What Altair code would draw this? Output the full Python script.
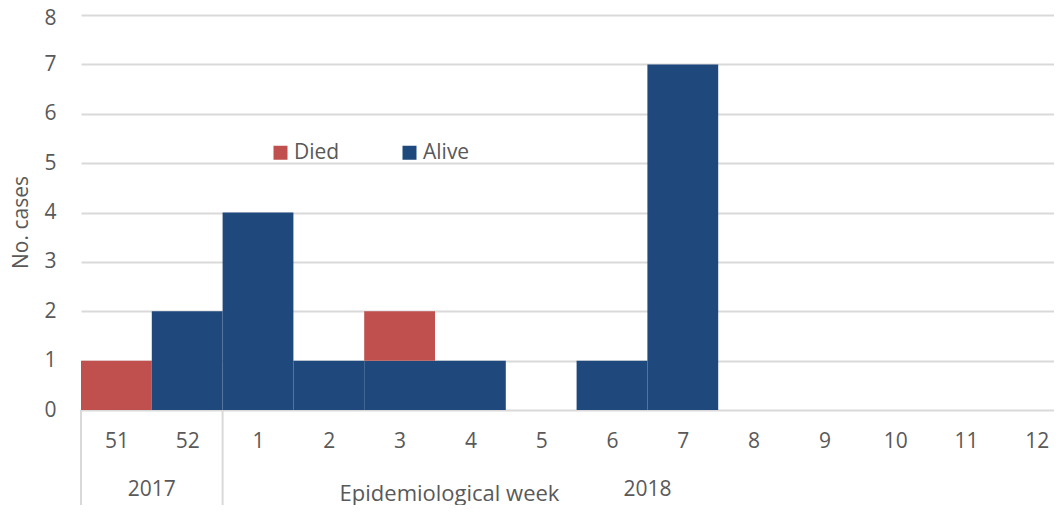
import altair as alt
import pandas as pd

weeks = ["51", "52", "1", "2", "3", "4", "5", "6", "7", "8", "9", "10", "11", "12"]
years = ["2017", "2018"]
year_span = [(0, 2), (2, 14)]
alive = [0, 2, 4, 1, 1, 1, 0, 1, 7, 0, 0, 0, 0, 0]
died = [1, 0, 0, 0, 1, 0, 0, 0, 0, 0, 0, 0, 0, 0]

RED = "#C0504D"
BLUE = "#1F497D"
TXT = "#595959"
GRID = "#D9D9D9"
FONT = "Open Sans"

rows = []
for i, w in enumerate(weeks):
    if alive[i] > 0:
        rows.append({"week": w, "x0": i, "x1": i + 1, "y0": 0, "y1": alive[i], "status": "Alive"})
    if died[i] > 0:
        rows.append({"week": w, "x0": i, "x1": i + 1, "y0": alive[i], "y1": alive[i] + died[i], "status": "Died"})
bars_df = pd.DataFrame(rows)

year_df = pd.DataFrame({
    "year": years,
    "xc": [(a + b) / 2 for a, b in year_span],
})
sep_df = pd.DataFrame({"xb": [year_span[0][0], year_span[1][0]]})

n = len(weeks)
W = 973
H = 395
band = 70.8
xscale = alt.Scale(domain=[0, W / band], nice=False, zero=False)
label_arr = "[" + ",".join("'%s'" % w for w in weeks) + "]"

bars = alt.Chart(bars_df).mark_bar(strokeWidth=0).encode(
    x=alt.X("x0:Q", scale=xscale,
            axis=alt.Axis(values=[i + 0.5 for i in range(n)],
                          labelExpr=label_arr + "[floor(datum.value)]",
                          grid=False, domain=False, ticks=False,
                          labelPadding=20, labelFontSize=21, labelColor=TXT, labelFont=FONT,
                          title="Epidemiological  week", titleFontSize=22, titleColor=TXT,
                          titleFont=FONT, titleFontWeight="normal",
                          titleX=368, titleY=83, titleBaseline="middle", titleAlign="center")),
    x2="x1:Q",
    y=alt.Y("y0:Q", scale=alt.Scale(domain=[0, 8], nice=False),
            axis=alt.Axis(values=list(range(9)), grid=True, gridColor=GRID, gridWidth=2,
                          domain=False, ticks=False, labelPadding=25, labelFontSize=21,
                          labelColor=TXT, labelFont=FONT,
                          labelOffset={"condition": {"test": "datum.value == 8", "value": 3}, "value": 0},
                          title="No. cases", titleFontSize=21, titleColor=TXT, titleFont=FONT,
                          titleFontWeight="normal", titleX=-60, titleY=207,
                          titleAlign="center", titleBaseline="middle")),
    y2="y1:Q",
    color=alt.Color("status:N",
                    scale=alt.Scale(domain=["Died", "Alive"], range=[RED, BLUE]),
                    legend=alt.Legend(title=None, orient="none", legendX=189, legendY=127,
                                      direction="horizontal", symbolType="square",
                                      symbolSize=196, symbolStrokeWidth=0, labelFontSize=21,
                                      labelColor=TXT, labelFont=FONT, labelOffset=3,
                                      gridAlign="all", columnPadding=58)),
)

year_text = alt.Chart(year_df).mark_text(fontSize=21, color=TXT, font=FONT, baseline="middle").encode(
    x=alt.X("xc:Q", scale=xscale),
    y=alt.value(475),
    text="year:N",
)

seps = alt.Chart(sep_df).mark_rule(color=GRID, strokeWidth=2).encode(
    x=alt.X("xb:Q", scale=xscale),
    y=alt.value(H),
    y2=alt.value(490),
)

chart = alt.layer(bars, seps, year_text).properties(
    width=W, height=H,
    autosize=alt.AutoSizeParams(type="none"),
    padding={"left": 73, "top": 7, "right": 0, "bottom": 95},
).configure_view(stroke=None, clip=False).configure_axis(labelFontWeight="normal")

chart.save("out.html", embed_options={"renderer": "svg", "actions": False})
